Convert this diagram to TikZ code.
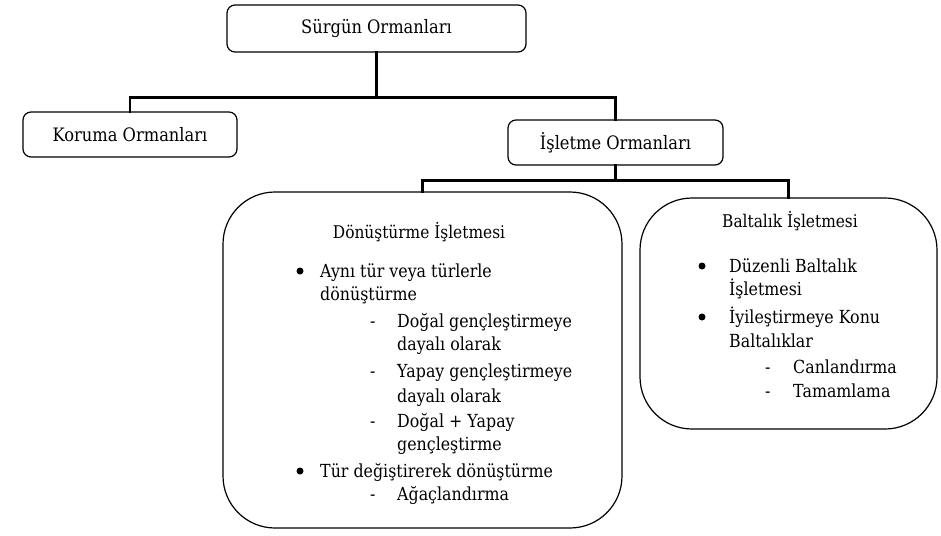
\documentclass[tikz,border=0pt]{standalone}
\usepackage{fontspec}
\setmainfont[FakeStretch=0.88]{DejaVu Serif}
\begin{document}
\begin{tikzpicture}[x=1pt,y=-1pt,
  box/.style={draw, line width=1.2pt, rounded corners=8pt, inner sep=0pt, font=\fontsize{18.5}{21}\selectfont},
  bigbox/.style={draw, line width=1.2pt, rounded corners=52pt, inner sep=0pt},
  conn/.style={line width=2.8pt, line cap=rect},
  txt/.style={anchor=base west, inner sep=0pt, font=\fontsize{18}{21}\selectfont},
  ttl/.style={anchor=base, inner sep=0pt, font=\fontsize{17.5}{20}\selectfont},
  bul/.style={circle, fill, inner sep=0pt, minimum size=7pt}]
\useasboundingbox (0,0) rectangle (941,535);
% boxes
\node[box, minimum width=299pt, minimum height=47pt] (top) at (376.5,28.5) {Sürgün Ormanları};
\node[box, minimum width=214pt, minimum height=45pt] (koruma) at (130,134.5) {Koruma Ormanları};
\node[box, minimum width=215pt, minimum height=45pt] (isletme) at (615.5,142.5) {İşletme Ormanları};
\node[bigbox, minimum width=399pt, minimum height=336pt] (donus) at (422.5,360) {};
\node[bigbox, minimum width=297pt, minimum height=231pt] (balt) at (788.5,313.5) {};
% connectors
\draw[conn] (top.south) -- ++(0,45) coordinate (j1);
\draw[conn] (koruma.north) |- (j1) -| (isletme.north);
\draw[conn] (isletme.south) -- ++(0,15) coordinate (j2);
\draw[conn] (donus.north) |- (j2) -| (balt.north);
% Dönüştürme texts
\node[ttl] (dt) at (419,238) {Dönüştürme İşletmesi};
\node[bul] (db1) at (300,271) {};
\node[txt] (d1) at (320,277) {Aynı tür veya türlerle};
\node[txt] (d2) at (320,300) {dönüştürme};
\node[txt] (dd1) at (370,327) {-};
\node[txt] (d3) at (397,327) {Doğal gençleştirmeye};
\node[txt] (d4) at (397,350) {dayalı olarak};
\node[txt] (dd2) at (370,377) {-};
\node[txt] (d5) at (397,377) {Yapay gençleştirmeye};
\node[txt] (d6) at (397,402) {dayalı olarak};
\node[txt] (dd3) at (370,427) {-};
\node[txt] (d7) at (397,427) {Doğal + Yapay};
\node[txt] (d8) at (397,450) {gençleştirme};
\node[bul] (db2) at (300,471) {};
\node[txt] (d9) at (320,477) {Tür değiştirerek dönüştürme};
\node[txt] (dd4) at (370,500) {-};
\node[txt] (d10) at (397,500) {Ağaçlandırma};
% Baltalık texts
\node[ttl] (bt) at (790,227) {Baltalık İşletmesi};
\node[bul] (bb1) at (702,266) {};
\node[txt] (b1) at (729,272) {Düzenli Baltalık};
\node[txt] (b2) at (729,295) {İşletmesi};
\node[bul] (bb2) at (702,317) {};
\node[txt] (b3) at (729,323) {İyileştirmeye Konu};
\node[txt] (b4) at (729,347) {Baltalıklar};
\node[txt] (bd1) at (765,373) {-};
\node[txt] (b5) at (793,373) {Canlandırma};
\node[txt] (bd2) at (765,397) {-};
\node[txt] (b6) at (793,397) {Tamamlama};
\end{tikzpicture}
\end{document}
